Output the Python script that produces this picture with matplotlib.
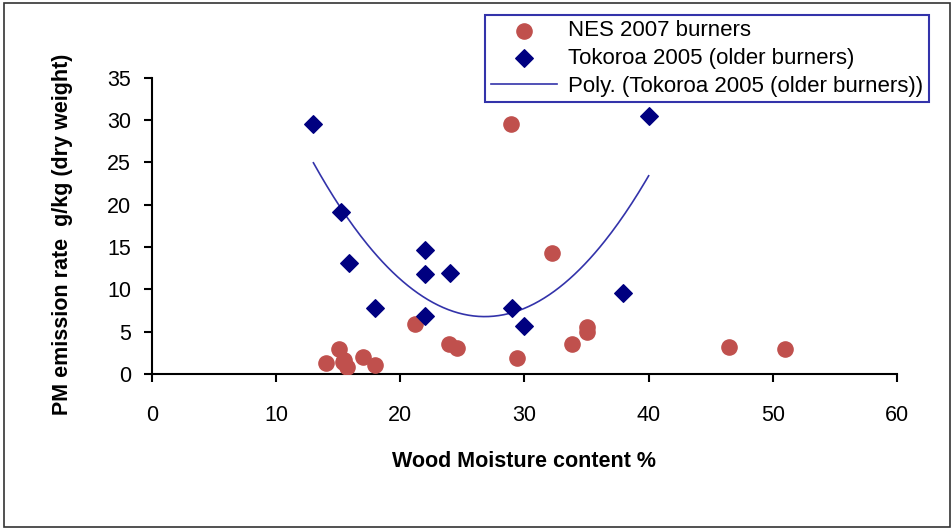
import numpy as np
import matplotlib
matplotlib.use("Agg")
import matplotlib.pyplot as plt
from matplotlib.patches import Rectangle

plt.rcParams["font.family"] = ["Liberation Sans", "DejaVu Sans"]

# NES 2007 burners
nes_moisture = [14.0, 15.1, 15.4, 15.5, 15.7, 17.0, 18.0, 21.2, 23.9, 24.6,
                28.9, 29.4, 32.2, 33.8, 35.0, 35.0, 46.5, 51.0]
nes_pm = [1.3, 2.9, 1.4, 1.6, 0.8, 2.0, 1.1, 5.9, 3.5, 3.1,
          29.5, 1.9, 14.3, 3.5, 5.0, 5.5, 3.2, 2.9]

# Tokoroa 2005 (older burners)
tok_moisture = [13.0, 15.2, 15.9, 18.0, 22.0, 22.0, 22.0, 24.0, 29.0, 30.0, 37.9, 40.0]
tok_pm = [29.5, 19.1, 13.1, 7.8, 14.7, 11.8, 6.8, 11.9, 7.8, 5.7, 9.6, 30.5]

# 2nd order polynomial trendline through the Tokoroa points
coef = np.polyfit(tok_moisture, tok_pm, 2)
xfit = np.linspace(min(tok_moisture), max(tok_moisture), 200)
yfit = np.polyval(coef, xfit)

fig = plt.figure(figsize=(9.53, 5.29), dpi=100)
ax = fig.add_axes([0.1595, 0.293, 0.7817, 0.560])

ax.scatter(nes_moisture, nes_pm, s=120, color="#C0504D", zorder=3,
           label="NES 2007 burners")
ax.scatter(tok_moisture, tok_pm, s=80, marker="D", color="#000080", zorder=3,
           label="Tokoroa 2005 (older burners)")
ax.plot(xfit, yfit, color="#3333AA", lw=1.2, zorder=2,
        label="Poly. (Tokoroa 2005 (older burners))")

ax.set_xlim(0, 60)
ax.set_ylim(0, 35)
ax.set_xticks(range(0, 61, 10))
ax.set_yticks(range(0, 36, 5))
ax.spines["top"].set_visible(False)
ax.spines["right"].set_visible(False)
ax.spines["left"].set_linewidth(1.5)
ax.spines["bottom"].set_linewidth(1.5)
ax.tick_params(direction="out", length=6, width=1.5, labelsize=15.5)
ax.tick_params(axis="x", pad=16)
ax.tick_params(axis="y", pad=9)

ax.set_xlabel("Wood Moisture content %", fontsize=15.5, fontweight="bold")
ax.xaxis.set_label_coords(0.5, -0.26)
ax.set_ylabel("PM emission rate  g/kg (dry weight)", fontsize=15.5, fontweight="bold")
ax.yaxis.set_label_coords(-0.106, 0.47)

leg = fig.legend(loc="upper right", bbox_to_anchor=(0.975, 0.972), fontsize=16,
                 fancybox=False, framealpha=1, edgecolor="#3333AA",
                 handlelength=3.0, labelspacing=0.3, borderpad=0.25,
                 handletextpad=0.5, borderaxespad=0)
leg.get_frame().set_linewidth(1.5)

fig.patches.append(Rectangle((0.004, 0.004), 0.993, 0.991, transform=fig.transFigure,
                             fill=False, edgecolor="#333333", lw=1.2))

fig.savefig("out.png", dpi=100)
